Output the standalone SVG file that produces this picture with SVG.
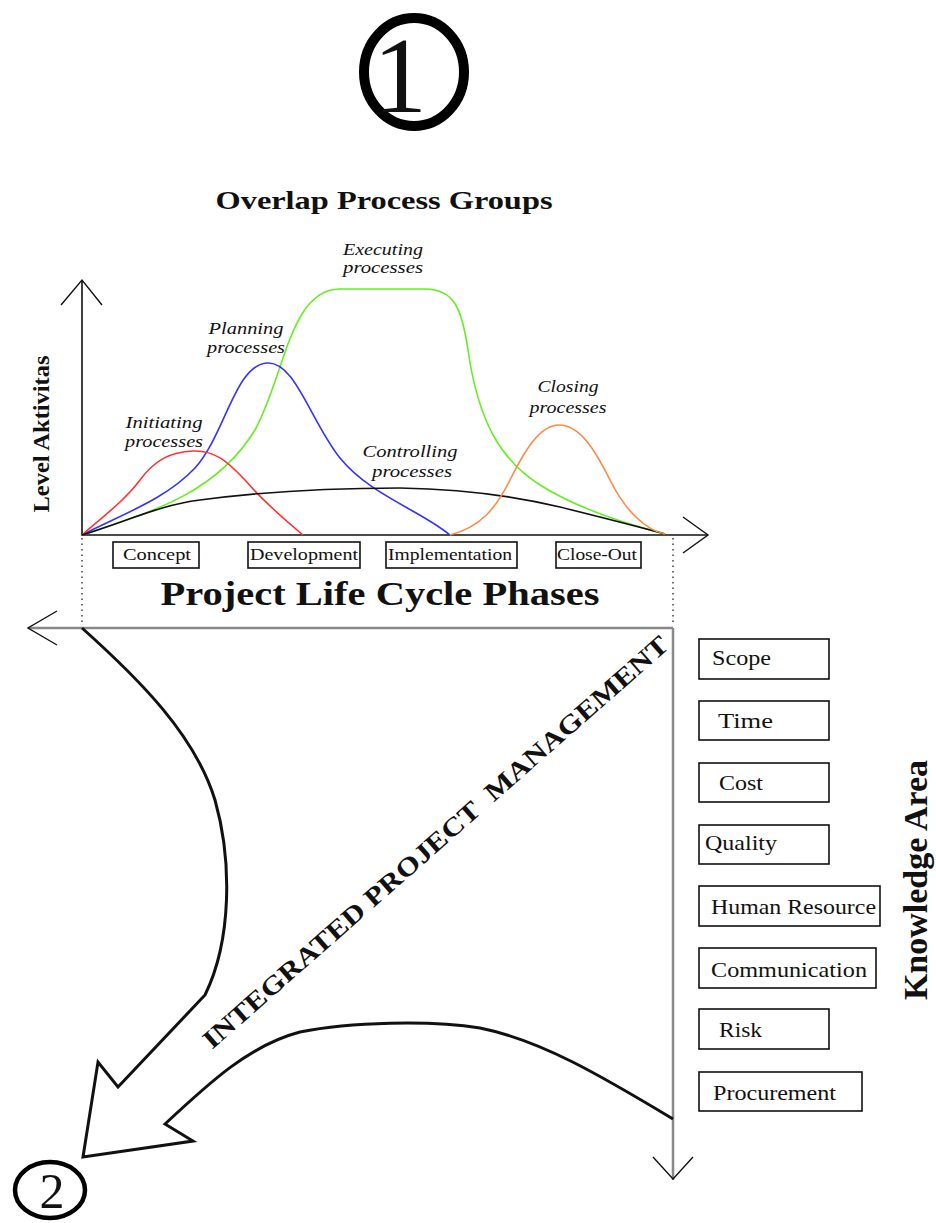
<svg xmlns="http://www.w3.org/2000/svg" width="936" height="1223" viewBox="0 0 936 1223">
  <style>
    text { font-family: "Liberation Serif", "Times New Roman", serif; fill: #111; }
    .lbl { font-style: italic; font-size: 17px; text-anchor: middle; }
    .phase { font-size: 17px; }
    .ka { font-size: 21px; }
    .box { fill: #fff; stroke: #111; stroke-width: 1.6; }
    .axis { fill: none; stroke: #111; stroke-width: 1.6; }
    .head { fill: none; stroke: #111; stroke-width: 1.4; }
    .grey { fill: none; stroke: #888; stroke-width: 2.5; }
    .dots { fill: none; stroke: #111; stroke-width: 1.2; stroke-dasharray: 1.5 4; }
    .curve { fill: none; stroke-width: 1.6; }
  </style>

  <!-- step marker 1 -->
  <g id="marker-1">
    <ellipse cx="414" cy="72" rx="50" ry="54" fill="none" stroke="#000" stroke-width="10"/>
    <text x="400" y="112" font-size="108" text-anchor="middle">1</text>
  </g>

  <g id="title">
    <text x="384" y="209" font-size="26" font-weight="bold" text-anchor="middle" textLength="337" lengthAdjust="spacingAndGlyphs">Overlap Process Groups</text>
  </g>

  <!-- activity chart -->
  <g id="chart-axes">
    <polyline class="axis" points="82,280 82,535 708,535"/>
    <polyline class="head" points="61,305 82,280 102,305"/>
    <polyline class="head" points="683,517 708,535 683,553"/>
    <text transform="translate(49,434) rotate(-90)" font-size="24" font-weight="bold" text-anchor="middle" textLength="157" lengthAdjust="spacingAndGlyphs">Level Aktivitas</text>
  </g>

  <g id="curve-executing">
    <path class="curve" stroke="#66ee22" d="M82,535 C150,512 215,495 255,430 C285,375 290,289 340,289 L425,289 C455,289 462,310 468,350 C478,420 500,460 540,485 C580,510 630,525 665,534"/>
    <text class="lbl" x="383" y="255" textLength="80" lengthAdjust="spacingAndGlyphs">Executing</text>
    <text class="lbl" x="383" y="273" textLength="80" lengthAdjust="spacingAndGlyphs">processes</text>
  </g>

  <g id="curve-planning">
    <path class="curve" stroke="#3333ff" d="M82,535 C120,515 165,500 195,468 C225,435 235,365 267,363 C295,361 310,420 340,458 C370,495 420,510 450,535"/>
    <text class="lbl" x="246" y="334" textLength="75" lengthAdjust="spacingAndGlyphs">Planning</text>
    <text class="lbl" x="246" y="353" textLength="78" lengthAdjust="spacingAndGlyphs">processes</text>
  </g>

  <g id="curve-initiating">
    <path class="curve" stroke="#ff3333" d="M82,535 C105,515 125,500 140,480 C155,460 170,452 193,451 C215,450 228,462 245,480 C262,500 285,520 303,535"/>
    <text class="lbl" x="164" y="428" textLength="77" lengthAdjust="spacingAndGlyphs">Initiating</text>
    <text class="lbl" x="164" y="447" textLength="78" lengthAdjust="spacingAndGlyphs">processes</text>
  </g>

  <g id="curve-controlling">
    <path class="curve" stroke="#111" d="M82,535 C130,520 160,505 200,500 C260,492 330,488 400,488 C460,489 510,495 560,507 C600,517 640,527 665,534"/>
    <text class="lbl" x="410" y="457" textLength="95" lengthAdjust="spacingAndGlyphs">Controlling</text>
    <text class="lbl" x="412" y="477" textLength="80" lengthAdjust="spacingAndGlyphs">processes</text>
  </g>

  <g id="curve-closing">
    <path class="curve" stroke="#ff8844" d="M450,535 C480,527 495,510 510,480 C525,450 540,425 559,425 C580,425 595,450 610,480 C625,510 645,530 665,534"/>
    <text class="lbl" x="568" y="392" textLength="61" lengthAdjust="spacingAndGlyphs">Closing</text>
    <text class="lbl" x="568" y="413" textLength="77" lengthAdjust="spacingAndGlyphs">processes</text>
  </g>

  <!-- life cycle phases -->
  <g id="phase-concept">
    <rect class="box" x="113" y="542" width="86" height="26"/>
    <text class="phase" x="123" y="560" textLength="68" lengthAdjust="spacingAndGlyphs">Concept</text>
  </g>
  <g id="phase-development">
    <rect class="box" x="248" y="542" width="112" height="26"/>
    <text class="phase" x="250" y="560" textLength="108" lengthAdjust="spacingAndGlyphs">Development</text>
  </g>
  <g id="phase-implementation">
    <rect class="box" x="386" y="542" width="131" height="26"/>
    <text class="phase" x="388" y="560" textLength="124" lengthAdjust="spacingAndGlyphs">Implementation</text>
  </g>
  <g id="phase-closeout">
    <rect class="box" x="556" y="542" width="85" height="26"/>
    <text class="phase" x="557" y="560" textLength="80" lengthAdjust="spacingAndGlyphs">Close-Out</text>
  </g>

  <g id="phases-title">
    <text x="380" y="605" font-size="34" font-weight="bold" text-anchor="middle" textLength="439" lengthAdjust="spacingAndGlyphs">Project Life Cycle Phases</text>
  </g>

  <!-- integration frame -->
  <g id="connectors">
    <line class="dots" x1="82" y1="538" x2="82" y2="626"/>
    <line class="dots" x1="673" y1="538" x2="673" y2="626"/>
    <line class="grey" x1="28" y1="628" x2="673" y2="628"/>
    <line class="grey" x1="673" y1="628" x2="673" y2="1180"/>
    <polyline class="head" points="57,611 28,628 57,645"/>
    <polyline class="head" points="653,1157 673,1179 693,1157"/>
    <path fill="none" stroke="#111" stroke-width="3" stroke-linejoin="miter" d="M82,628 C140,680 195,735 215,800 C232,860 232,940 205,995 L118,1087 L98,1062 L83,1157 L193,1141 L165,1124 C210,1082 250,1045 300,1032 C350,1022 430,1020 480,1028 C540,1040 600,1075 673,1119"/>
  </g>

  <g id="integration-label">
    <text transform="translate(212,1050) rotate(-41.3)" font-size="26" font-weight="bold" textLength="610" lengthAdjust="spacingAndGlyphs" xml:space="preserve">INTEGRATED PROJECT  MANAGEMENT</text>
  </g>

  <!-- knowledge areas -->
  <g id="ka-scope">
    <rect class="box" x="699" y="639" width="130" height="40"/>
    <text class="ka" x="712" y="665" textLength="59" lengthAdjust="spacingAndGlyphs">Scope</text>
  </g>
  <g id="ka-time">
    <rect class="box" x="699" y="701" width="130" height="39"/>
    <text class="ka" x="718" y="728" textLength="55" lengthAdjust="spacingAndGlyphs">Time</text>
  </g>
  <g id="ka-cost">
    <rect class="box" x="699" y="763" width="130" height="39"/>
    <text class="ka" x="719" y="790" textLength="44" lengthAdjust="spacingAndGlyphs">Cost</text>
  </g>
  <g id="ka-quality">
    <rect class="box" x="699" y="825" width="130" height="39"/>
    <text class="ka" x="705" y="850" textLength="72" lengthAdjust="spacingAndGlyphs">Quality</text>
  </g>
  <g id="ka-human-resource">
    <rect class="box" x="699" y="886" width="181" height="40"/>
    <text class="ka" x="711" y="914" textLength="165" lengthAdjust="spacingAndGlyphs">Human Resource</text>
  </g>
  <g id="ka-communication">
    <rect class="box" x="699" y="948" width="177" height="40"/>
    <text class="ka" x="711" y="977" textLength="156" lengthAdjust="spacingAndGlyphs">Communication</text>
  </g>
  <g id="ka-risk">
    <rect class="box" x="699" y="1009" width="130" height="40"/>
    <text class="ka" x="719" y="1037" textLength="43" lengthAdjust="spacingAndGlyphs">Risk</text>
  </g>
  <g id="ka-procurement">
    <rect class="box" x="699" y="1072" width="163" height="39"/>
    <text class="ka" x="713" y="1100" textLength="123" lengthAdjust="spacingAndGlyphs">Procurement</text>
  </g>

  <g id="ka-title">
    <text transform="translate(927,880) rotate(-90)" font-size="34" font-weight="bold" text-anchor="middle">Knowledge Area</text>
  </g>

  <!-- step marker 2 -->
  <g id="marker-2">
    <ellipse cx="50" cy="1190" rx="35" ry="28" fill="none" stroke="#000" stroke-width="4.5"/>
    <text x="52" y="1208" font-size="50" text-anchor="middle">2</text>
  </g>
</svg>
